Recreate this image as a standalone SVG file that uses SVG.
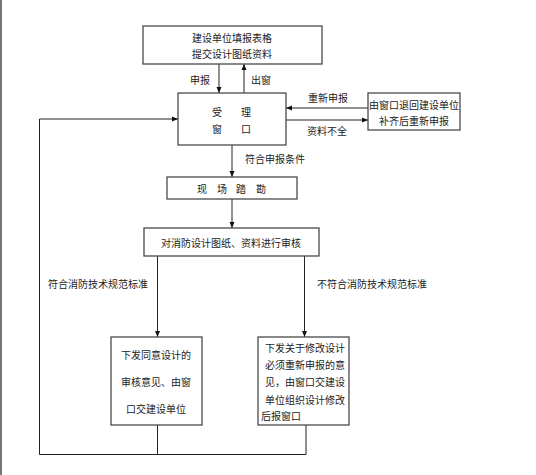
<svg xmlns="http://www.w3.org/2000/svg" width="536" height="475" viewBox="0 0 536 475">
<style>
.box{fill:#fff;stroke:#4a4a4a;stroke-width:1.3}
.ln{fill:none;stroke:#222;stroke-width:1}
text{font-family:"Noto Sans CJK SC","Liberation Sans",sans-serif;font-size:10px;fill:#222;dominant-baseline:central}
.c{text-anchor:middle}
</style>
<defs>
<marker id="ah" markerWidth="6" markerHeight="6" refX="6" refY="3" orient="auto" markerUnits="userSpaceOnUse">
<path d="M0,0.5 L6,3 L0,5.5 Z" fill="#111"/>
</marker>
</defs>
<rect width="536" height="475" fill="#fff"/>
<line x1="1" y1="0" x2="1" y2="475" stroke="#555" stroke-width="1.6"/>
<g id="connectors">
<line class="ln" x1="219" y1="64" x2="219" y2="93" marker-end="url(#ah)"/>
<line class="ln" x1="244" y1="93" x2="244" y2="64" marker-end="url(#ah)"/>
<line class="ln" x1="368" y1="108" x2="286" y2="108" marker-end="url(#ah)"/>
<line class="ln" x1="286" y1="120" x2="368" y2="120" marker-end="url(#ah)"/>
<line class="ln" x1="232" y1="145" x2="232" y2="177" marker-end="url(#ah)"/>
<line class="ln" x1="232" y1="199" x2="232" y2="228" marker-end="url(#ah)"/>
<line class="ln" x1="157.5" y1="256" x2="157.5" y2="337" marker-end="url(#ah)"/>
<line class="ln" x1="304.5" y1="256" x2="304.5" y2="337" marker-end="url(#ah)"/>
<polyline class="ln" points="157.5,425 157.5,454.5"/>
<polyline class="ln" points="306,425 306,454.5 39.5,454.5 39.5,119 178,119" marker-end="url(#ah)"/>
<text class="c" x="200" y="79">申报</text>
<text class="c" x="261" y="79">出窗</text>
<text class="c" x="328" y="97">重新申报</text>
<text class="c" x="327" y="130">资料不全</text>
<text class="c" x="275" y="158">符合申报条件</text>
<text class="c" x="98" y="283">符合消防技术规范标准</text>
<text class="c" x="372" y="283">不符合消防技术规范标准</text>
</g>
<g id="n-apply">
<rect class="box" x="143" y="26" width="179" height="38"/>
<text class="c" x="232" y="37">建设单位填报表格</text>
<text class="c" x="232" y="53.5">提交设计图纸资料</text>
</g>
<g id="n-window">
<rect class="box" x="178" y="93" width="108" height="52"/>
<text class="c" x="217" y="111">受</text>
<text class="c" x="246" y="111">理</text>
<text class="c" x="217" y="128.5">窗</text>
<text class="c" x="246" y="128.5">口</text>
</g>
<g id="n-return">
<rect class="box" x="368" y="93" width="92" height="37"/>
<text class="c" x="414" y="104">由窗口退回建设单位</text>
<text class="c" x="414" y="120">补齐后重新申报</text>
</g>
<g id="n-survey">
<rect class="box" x="167" y="177" width="130" height="22"/>
<text class="c" x="202" y="188">现</text>
<text class="c" x="222" y="188">场</text>
<text class="c" x="241" y="188">踏</text>
<text class="c" x="261" y="188">勘</text>
</g>
<g id="n-review">
<rect class="box" x="144" y="228" width="175" height="28"/>
<text class="c" x="231" y="242">对消防设计图纸、资料进行审核</text>
</g>
<g id="n-approve">
<rect class="box" x="111" y="337" width="91" height="88"/>
<text class="c" x="156" y="354">下发同意设计的</text>
<text class="c" x="156" y="381">审核意见、由窗</text>
<text class="c" x="156" y="408">口交建设单位</text>
</g>
<g id="n-reject">
<rect class="box" x="258" y="337" width="91" height="88"/>
<text x="265" y="347.5">下发关于修改设计</text>
<text x="265" y="364">必须重新申报的意</text>
<text x="265" y="381">见，由窗口交建设</text>
<text x="265" y="399">单位组织设计修改</text>
<text x="261" y="415.5">后报窗口</text>
</g>
</svg>
